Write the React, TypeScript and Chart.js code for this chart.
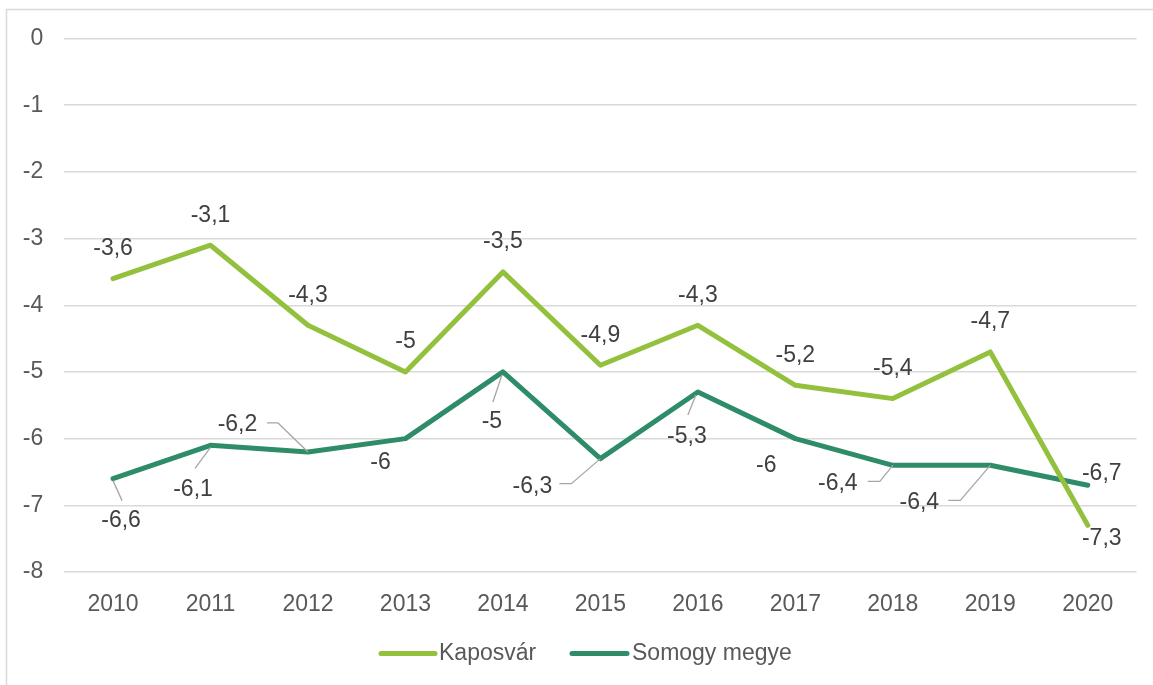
import React, { useEffect, useRef } from "react";
import { Chart, registerables } from "chart.js";

Chart.register(...registerables);

const years = ["2010", "2011", "2012", "2013", "2014", "2015", "2016", "2017", "2018", "2019", "2020"];
const kaposvar = [-3.6, -3.1, -4.3, -5, -3.5, -4.9, -4.3, -5.2, -5.4, -4.7, -7.3];
const somogy = [-6.6, -6.1, -6.2, -6, -5, -6.3, -5.3, -6, -6.4, -6.4, -6.7];
const seriesNames = ["Kaposvár", "Somogy megye"];
const seriesColors = ["#93C13E", "#2F8C69"];

// label layout: text centre offset from point, plus optional leader path (offsets from point)
type Lab = { dx: number; dy: number; leader?: number[][] };
const kaposvarLabels: Lab[] = [
  { dx: 0, dy: -30 }, { dx: 0, dy: -30 }, { dx: 0, dy: -30 }, { dx: 0, dy: -30 },
  { dx: 0, dy: -30 }, { dx: 0, dy: -30 }, { dx: 0, dy: -30 }, { dx: 0, dy: -30 },
  { dx: 0, dy: -30 }, { dx: 0, dy: -30 }, { dx: 14, dy: 13 },
];
const somogyLabels: Lab[] = [
  { dx: 8, dy: 42, leader: [[9, 22], [0, 2]] },
  { dx: -17.5, dy: 44, leader: [[-15.5, 23], [0, 2]] },
  { dx: -70.5, dy: -27, leader: [[-41, -29], [-30, -29], [0, 0]] },
  { dx: -25, dy: 24 },
  { dx: -11, dy: 50, leader: [[-10, 30], [-1, 3]] },
  { dx: -68, dy: 28, leader: [[-41, 25], [-29, 25], [0, 0]] },
  { dx: -11, dy: 45, leader: [[-10, 23], [-2, 3]] },
  { dx: -29, dy: 27 },
  { dx: -55, dy: 18, leader: [[-25, 16], [-13, 16], [0, 0]] },
  { dx: -71, dy: 37, leader: [[-42, 35], [-30, 35], [0, 0]] },
  { dx: 14, dy: -12 },
];
const labelLayouts = [kaposvarLabels, somogyLabels];

const FONT = "'Liberation Sans', Arial, sans-serif";
const FS = 23;

const fmt = (v: number) => String(v).replace(".", ",");

const decorPlugin = {
  id: "decor",
  beforeDraw(chart: any) {
    const ctx = chart.ctx;
    ctx.save();
    ctx.strokeStyle = "#d9d9d9";
    ctx.lineWidth = 1.5;
    ctx.beginPath();
    ctx.moveTo(6.5, chart.height);
    ctx.lineTo(6.5, 9.5);
    ctx.lineTo(chart.width, 9.5);
    ctx.stroke();
    ctx.restore();
  },
  afterDatasetsDraw(chart: any) {
    const ctx = chart.ctx;
    ctx.save();
    chart.data.datasets.forEach((ds: any, di: number) => {
      const meta = chart.getDatasetMeta(di);
      const layout = labelLayouts[di];
      meta.data.forEach((pt: any, i: number) => {
        const l = layout[i];
        const x = pt.x;
        const y = pt.y;
        if (l.leader) {
          ctx.strokeStyle = "#a6a6a6";
          ctx.lineWidth = 1.3;
          ctx.beginPath();
          l.leader.forEach((p, k) => {
            if (k === 0) ctx.moveTo(x + p[0], y + p[1]);
            else ctx.lineTo(x + p[0], y + p[1]);
          });
          ctx.stroke();
        }
        ctx.fillStyle = "#404040";
        ctx.font = `${FS}px ${FONT}`;
        ctx.textAlign = "center";
        ctx.textBaseline = "middle";
        ctx.fillText(fmt(ds.data[i]), x + l.dx, y + l.dy);
      });
    });
    // legend
    const ly = 653.5;
    const items = [
      { x1: 381, x2: 435, tx: 439 },
      { x1: 572, x2: 627, tx: 632 },
    ];
    items.forEach((it, k) => {
      ctx.strokeStyle = seriesColors[k];
      ctx.lineWidth = 5;
      ctx.lineCap = "round";
      ctx.beginPath();
      ctx.moveTo(it.x1, ly);
      ctx.lineTo(it.x2, ly);
      ctx.stroke();
      ctx.fillStyle = "#595959";
      ctx.font = `${FS}px ${FONT}`;
      ctx.textAlign = "left";
      ctx.textBaseline = "middle";
      ctx.fillText(seriesNames[k], it.tx, ly);
    });
    ctx.restore();
  },
};

export default function App() {
  const ref = useRef<HTMLCanvasElement | null>(null);
  useEffect(() => {
    if (!ref.current) return;
    const chart = new Chart(ref.current, {
      type: "line",
      data: {
        labels: years,
        datasets: [
          {
            label: seriesNames[0],
            data: kaposvar,
            borderColor: seriesColors[0],
            backgroundColor: seriesColors[0],
            borderWidth: 5,
            pointRadius: 0,
            tension: 0,
            borderCapStyle: "round",
            borderJoinStyle: "round",
          },
          {
            label: seriesNames[1],
            data: somogy,
            borderColor: seriesColors[1],
            backgroundColor: seriesColors[1],
            borderWidth: 5,
            pointRadius: 0,
            tension: 0,
            borderCapStyle: "round",
            borderJoinStyle: "round",
          },
        ],
      },
      options: {
        animation: false,
        responsive: false,
        maintainAspectRatio: false,
        layout: { padding: { left: 0, right: 16.5, top: 38.5, bottom: 63 } },
        plugins: { legend: { display: false }, tooltip: { enabled: false } },
        scales: {
          x: {
            offset: true,
            grid: { display: false },
            border: { display: false },
            ticks: { color: "#595959", font: { family: FONT, size: FS }, padding: 11, maxRotation: 0 },
            afterFit: (s: any) => { s.height = 50; },
          },
          y: {
            min: -8,
            max: 0,
            grid: { color: "#d9d9d9", lineWidth: 1.5, drawTicks: false },
            border: { display: false },
            ticks: { stepSize: 1, color: "#595959", font: { family: FONT, size: FS }, padding: 21 },
            afterFit: (s: any) => { s.width = 64.3; },
          },
        },
      },
      plugins: [decorPlugin],
    });
    return () => chart.destroy();
  }, []);
  return (
    <div style={{ position: "absolute", left: 0, top: 0, width: 1153, height: 685, background: "#fff" }}>
      <canvas ref={ref} width={1153} height={685} style={{ display: "block", width: 1153, height: 685 }} />
    </div>
  );
}
